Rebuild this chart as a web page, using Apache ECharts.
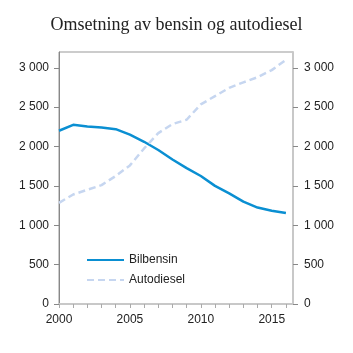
<!DOCTYPE html>
<html>
<head>
<meta charset="utf-8">
<script src="https://cdn.jsdelivr.net/npm/echarts@6/dist/echarts.min.js"></script>
<style>
  html, body { margin: 0; padding: 0; background: #fff; }
  #chart { width: 353px; height: 353px; }
</style>
</head>
<body>
<div id="chart"></div>
<script>
// år og salg (millioner liter)
const years = [2000, 2001, 2002, 2003, 2004, 2005, 2006, 2007, 2008, 2009, 2010, 2011, 2012, 2013, 2014, 2015, 2016];
const bilbensin = [2200, 2275, 2255, 2240, 2220, 2150, 2060, 1955, 1835, 1725, 1625, 1500, 1405, 1300, 1225, 1185, 1155];
const autodiesel = [1285, 1390, 1450, 1510, 1625, 1760, 1975, 2170, 2285, 2340, 2535, 2640, 2745, 2815, 2880, 2970, 3100];

const yTicks = [0, 500, 1000, 1500, 2000, 2500, 3000];
const xTicks = years;
const xLabels = [2000, 2005, 2010, 2015];

function fmt(v) {
  return String(v).replace(/\B(?=(\d{3})+(?!\d))/g, ' ');
}

let chart = echarts.init(document.getElementById('chart'));

const labelStyle = { color: '#222', fontSize: 12, fontFamily: 'Liberation Sans, Arial, sans-serif' };

chart.setOption({
  animation: false,
  title: {
    text: 'Omsetning av bensin og autodiesel',
    left: 'center',
    top: 11,
    textStyle: { color: '#222', fontSize: 18, fontWeight: 'normal', fontFamily: 'Liberation Serif, Times New Roman, serif' }
  },
  grid: {
    left: 59, right: 60, top: 52, bottom: 49,
    show: true, borderColor: '#999', borderWidth: 1
  },
  legend: {
    orient: 'vertical',
    left: 81, top: 249,
    itemWidth: 37, itemHeight: 12, itemGap: 8,
    itemStyle: { opacity: 0 },
    textStyle: { color: '#222', fontSize: 12, fontFamily: 'Liberation Sans, Arial, sans-serif' },
    data: ['Bilbensin', 'Autodiesel']
  },
  xAxis: {
    type: 'value',
    min: 2000, max: 2016.5, interval: 1,
    axisLine: { lineStyle: { color: '#c8c8c8', width: 2 } },
    axisTick: { length: 4, customValues: xTicks, lineStyle: { color: '#aaa' } },
    splitLine: { show: false },
    axisLabel: Object.assign({ margin: 10, customValues: xLabels, formatter: v => String(v) }, labelStyle)
  },
  yAxis: [
    {
      type: 'value', position: 'left',
      min: 0, max: 3200, interval: 500,
      axisLine: { show: true, lineStyle: { color: '#888', width: 1 } },
      axisTick: { show: true, length: 5, customValues: yTicks, lineStyle: { color: '#888' } },
      splitLine: { show: false },
      axisLabel: Object.assign({ margin: 10, customValues: yTicks, formatter: fmt }, labelStyle)
    },
    {
      type: 'value', position: 'right',
      min: 0, max: 3200, interval: 500,
      axisLine: { show: true, lineStyle: { color: '#c8c8c8', width: 2 } },
      axisTick: { show: true, length: 5, customValues: yTicks, lineStyle: { color: '#888' } },
      splitLine: { show: false },
      axisLabel: Object.assign({ margin: 11, customValues: yTicks, formatter: fmt }, labelStyle)
    }
  ],
  series: [
    {
      name: 'Bilbensin',
      type: 'line',
      showSymbol: false,
      symbol: 'none',
      data: years.map((y, i) => [y, bilbensin[i]]),
      lineStyle: { color: '#0a8fd2', width: 2.5 },
      itemStyle: { color: '#0a8fd2' }
    },
    {
      name: 'Autodiesel',
      type: 'line',
      showSymbol: false,
      symbol: 'none',
      data: years.map((y, i) => [y, autodiesel[i]]),
      lineStyle: { color: '#c6d6f0', width: 2.5, type: [7, 4] },
      itemStyle: { color: '#c6d6f0' }
    }
  ]
});
</script>
</body>
</html>
